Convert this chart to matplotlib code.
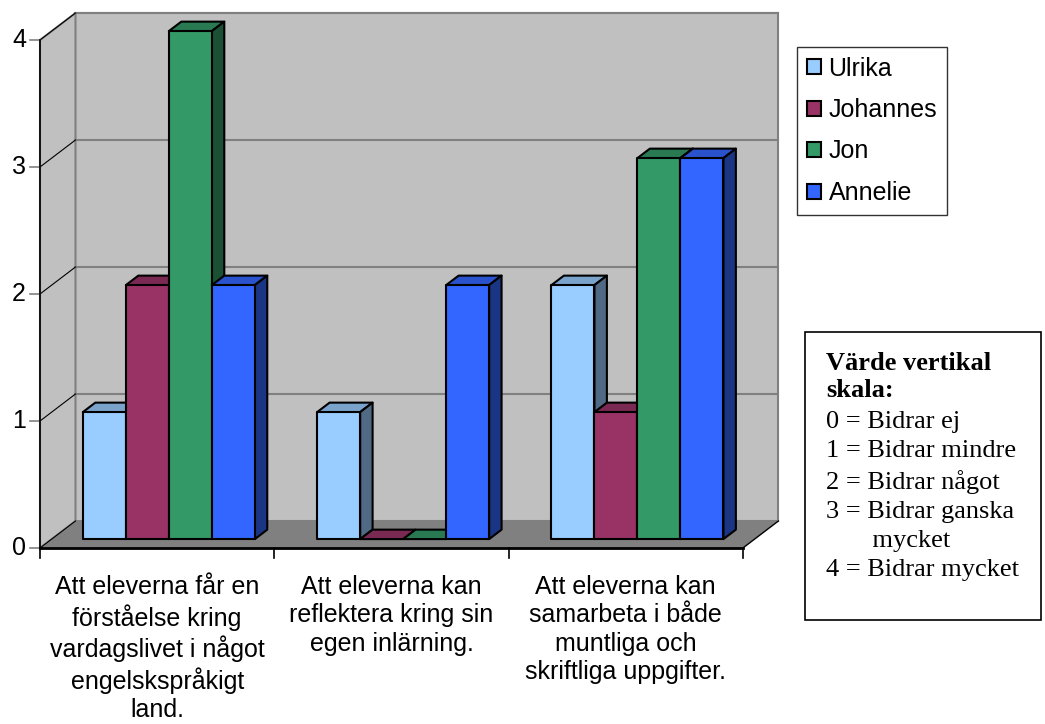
import numpy as np
import matplotlib.pyplot as plt
from matplotlib.patches import Polygon, Patch, Rectangle

categories = [
    "Att eleverna får en\nförståelse kring\nvardagslivet i något\nengelskspråkigt\nland.",
    "Att eleverna kan\nreflektera kring sin\negen inlärning.",
    "Att eleverna kan\nsamarbeta i både\nmuntliga och\nskriftliga uppgifter.",
]
names = ["Ulrika", "Johannes", "Jon", "Annelie"]
ulrika = [1, 1, 2]
johannes = [2, 0, 1]
jon = [4, 0, 3]
annelie = [2, 2, 3]
colors = ["#99CCFF", "#993366", "#339966", "#3366FF"]
yticks = [0, 1, 2, 3, 4]
scale_note = ["0 = Bidrar ej", "1 = Bidrar mindre", "2 = Bidrar något",
              "3 = Bidrar ganska", "       mycket", "4 = Bidrar mycket"]

series = [ulrika, johannes, jon, annelie]
ncat = len(categories)
ymax = yticks[-1]

# depth direction of the pseudo-3D box (data units for full depth)
DX, DY = 0.1515, 0.2126
D0, D1 = 0.33, 0.68          # front/back depth of the bars
BAR_W = 0.1835


def shade(c, f):
    r, g, b = [int(c[i:i + 2], 16) / 255 for i in (1, 3, 5)]
    return (r * f, g * f, b * f)


def pt(x, y, d):
    return (x + d * DX, y + d * DY)


fig = plt.figure(figsize=(10.45, 7.24), dpi=100)
ax = fig.add_axes([0, 0, 1, 1])
ax.set_xlim(-40 / 234.3, 1005 / 234.3)
ax.set_ylim(-176 / 127, 548 / 127)
ax.axis("off")

wall = "#C0C0C0"
grid = "#808080"

# back wall, side wall, floor
ax.add_patch(Polygon([pt(0, 0, 1), pt(ncat, 0, 1), pt(ncat, ymax, 1), pt(0, ymax, 1)],
                     closed=True, fc=wall, ec=grid, lw=1.5, zorder=1))
ax.add_patch(Polygon([pt(0, 0, 0), pt(0, 0, 1), pt(0, ymax, 1), pt(0, ymax, 0)],
                     closed=True, fc=wall, ec=grid, lw=1.5, zorder=1))
ax.add_patch(Polygon([pt(0, 0, 0), pt(0, 0, 1), pt(ncat, 0, 1), pt(ncat, 0, 0)],
                     closed=True, fc=grid, ec="none", zorder=1))

# gridlines on back wall and side wall
for v in yticks[1:]:
    xs, ys = zip(pt(0, v, 1), pt(ncat, v, 1))
    ax.plot(xs, ys, color=grid, lw=1.5, zorder=1.5)
for v in yticks:
    xs, ys = zip(pt(0, v, 0), pt(0, v, 1))
    ax.plot(xs, ys, color="black", lw=0.8, zorder=1.5)
    ax.plot([-0.043, 0], [v, v], color=grid, lw=1.2, zorder=1.5)
    ax.text(-0.06, v, str(v), ha="right", va="center", fontsize=18,
            family="Liberation Sans")

# axis lines
ax.plot([0, 0], [0, ymax], color="black", lw=1.2, zorder=1.6)
ax.plot([0, ncat], [0, 0], color="black", lw=2.0, zorder=1.6)
xs, ys = zip(pt(ncat, 0, 0), pt(ncat, 0, 1))
ax.plot(xs, ys, color="black", lw=1.0, zorder=1.6)
for i in range(ncat + 1):
    ax.plot([i, i], [0, -0.08], color="black", lw=1.2, zorder=1.6)

# bars
z = 2
for i in range(ncat):
    start = i + (1 - BAR_W * len(series)) / 2
    for s, (vals, col) in enumerate(zip(series, colors)):
        x0 = start + s * BAR_W
        x1 = x0 + BAR_W
        v = vals[i]
        top = [pt(x0, v, D0), pt(x1, v, D0), pt(x1, v, D1), pt(x0, v, D1)]
        side = [pt(x1, 0, D0), pt(x1, 0, D1), pt(x1, v, D1), pt(x1, v, D0)]
        front = [pt(x0, 0, D0), pt(x1, 0, D0), pt(x1, v, D0), pt(x0, v, D0)]
        ax.add_patch(Polygon(top, closed=True, fc=shade(col, 0.8), ec="black",
                             lw=1.5, joinstyle="round", zorder=z))
        if v > 0:
            ax.add_patch(Polygon(side, closed=True, fc=shade(col, 0.52), ec="black",
                                 lw=1.5, joinstyle="round", zorder=z))
            ax.add_patch(Polygon(front, closed=True, fc=col, ec="black",
                                 lw=1.5, joinstyle="round", zorder=z))
        z += 1

# category labels
for i, lab in enumerate(categories):
    ax.text(i + 0.5, -0.215, lab, ha="center", va="top", fontsize=18,
            family="Liberation Sans", linespacing=1.22)

# legend
handles = [Patch(fc=c, ec="black", lw=1.5) for c in colors]
leg = fig.legend(handles, names, loc="upper left",
                 bbox_to_anchor=(797 / 1045, 1 - 47 / 724),
                 prop={"family": "Liberation Sans", "size": 18},
                 frameon=True, fancybox=False, edgecolor="black",
                 handlelength=0.56, handleheight=0.56, handletextpad=0.32,
                 labelspacing=0.7, borderpad=0.38, borderaxespad=0)
leg.get_frame().set_linewidth(1.0)

# scale explanation box
fig.add_artist(Rectangle((805 / 1045, 1 - 620 / 724), 236 / 1045, 288 / 724,
                         transform=fig.transFigure, fc="white", ec="black", lw=1.2))
fig.text(826 / 1045, 1 - 352 / 724, "Värde vertikal\nskala:", ha="left", va="top",
         fontsize=19, family="Liberation Serif", weight="bold", linespacing=1.21)
fig.text(826 / 1045, 1 - 411 / 724, "\n".join(scale_note), ha="left", va="top",
         fontsize=19, family="Liberation Serif", linespacing=1.41)

fig.savefig("out.png", dpi=100)
